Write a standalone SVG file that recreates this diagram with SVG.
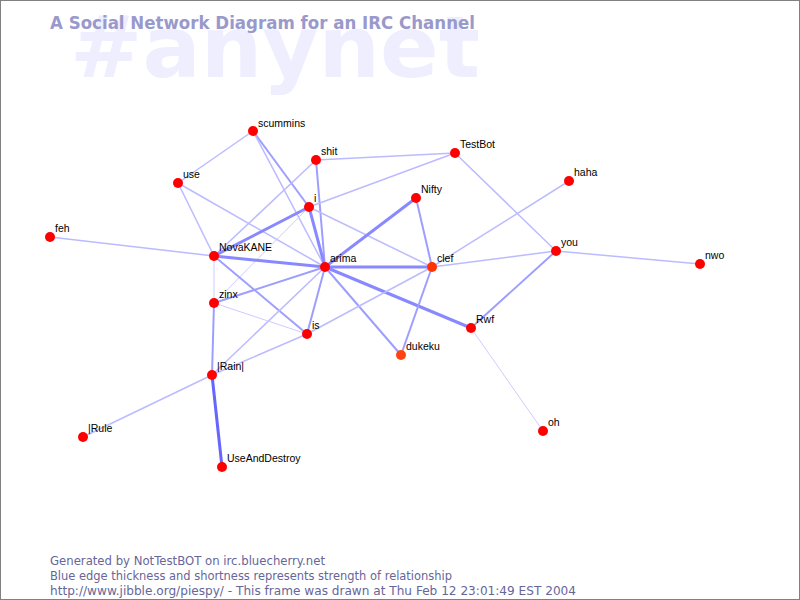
<svg xmlns="http://www.w3.org/2000/svg" width="800" height="600" viewBox="0 0 800 600">
<style>
.bg{fill:#ffffff;stroke:#808080;stroke-width:1}
.wm{font-family:"DejaVu Sans","Liberation Sans",sans-serif;font-weight:bold;font-size:86px;fill:#eeeeff}
.title{font-family:"DejaVu Sans","Liberation Sans",sans-serif;font-weight:bold;font-size:17px;fill:#9999cc}
.foot{font-family:"DejaVu Sans","Liberation Sans",sans-serif;font-size:11.5px;fill:#666699}
.lbl{font-family:"Liberation Sans","DejaVu Sans",sans-serif;font-size:10.5px;fill:#000000}
.n{fill:#ff0000}
.n2{fill:#ff3300}
.n3{fill:#ff4411}
.e1{stroke:#ccccff;stroke-width:1;fill:none}
.e2{stroke:#bbbbff;stroke-width:1.5;fill:none}
.e3{stroke:#9e9eff;stroke-width:2;fill:none}
.e4{stroke:#8888ff;stroke-width:3;fill:none}
.e5{stroke:#6666ff;stroke-width:3;fill:none}
</style>
<rect class="bg" x="0.5" y="0.5" width="799" height="599"/>
<text class="wm" x="70" y="77" textLength="410" lengthAdjust="spacingAndGlyphs">#anynet</text>
<text class="title" x="50" y="29" textLength="425" lengthAdjust="spacingAndGlyphs">A Social Network Diagram for an IRC Channel</text>
<g id="connectors">
<line class="e2" x1="253" y1="131" x2="178" y2="183"/>
<line class="e3" x1="253" y1="131" x2="309" y2="207"/>
<line class="e2" x1="253" y1="131" x2="325" y2="267"/>
<line class="e2" x1="316" y1="160" x2="455" y2="153"/>
<line class="e3" x1="316" y1="160" x2="325" y2="267"/>
<line class="e2" x1="316" y1="160" x2="214" y2="256"/>
<line class="e2" x1="455" y1="153" x2="309" y2="207"/>
<line class="e2" x1="455" y1="153" x2="556" y2="251"/>
<line class="e2" x1="178" y1="183" x2="214" y2="256"/>
<line class="e2" x1="178" y1="183" x2="325" y2="267"/>
<line class="e4" x1="309" y1="207" x2="214" y2="256"/>
<line class="e4" x1="309" y1="207" x2="325" y2="267"/>
<line class="e2" x1="309" y1="207" x2="432" y2="267"/>
<line class="e1" x1="309" y1="207" x2="214" y2="303"/>
<line class="e4" x1="416" y1="198" x2="325" y2="267"/>
<line class="e3" x1="416" y1="198" x2="432" y2="267"/>
<line class="e2" x1="569" y1="181" x2="432" y2="267"/>
<line class="e2" x1="50" y1="237" x2="214" y2="256"/>
<line class="e4" x1="214" y1="256" x2="325" y2="267"/>
<line class="e3" x1="214" y1="256" x2="307" y2="334"/>
<line class="e1" x1="214" y1="256" x2="214" y2="303"/>
<line class="e4" x1="325" y1="267" x2="432" y2="267"/>
<line class="e4" x1="325" y1="267" x2="471" y2="328"/>
<line class="e3" x1="325" y1="267" x2="401" y2="355"/>
<line class="e3" x1="325" y1="267" x2="307" y2="334"/>
<line class="e3" x1="325" y1="267" x2="214" y2="303"/>
<line class="e2" x1="325" y1="267" x2="212" y2="375"/>
<line class="e3" x1="432" y1="267" x2="401" y2="355"/>
<line class="e2" x1="432" y1="267" x2="556" y2="251"/>
<line class="e2" x1="432" y1="267" x2="307" y2="334"/>
<line class="e3" x1="556" y1="251" x2="471" y2="328"/>
<line class="e2" x1="556" y1="251" x2="700" y2="264"/>
<line class="e1" x1="471" y1="328" x2="543" y2="431"/>
<line class="e1" x1="214" y1="303" x2="307" y2="334"/>
<line class="e3" x1="214" y1="303" x2="212" y2="375"/>
<line class="e2" x1="307" y1="334" x2="212" y2="375"/>
<line class="e2" x1="212" y1="375" x2="83" y2="437"/>
<line class="e5" x1="212" y1="375" x2="222" y2="467"/>
</g>
<g id="scummins"><circle class="n" cx="253" cy="131" r="5"/><text class="lbl" x="258" y="127">scummins</text></g>
<g id="shit"><circle class="n" cx="316" cy="160" r="5"/><text class="lbl" x="321" y="155">shit</text></g>
<g id="TestBot"><circle class="n" cx="455" cy="153" r="5"/><text class="lbl" x="460" y="148">TestBot</text></g>
<g id="use"><circle class="n" cx="178" cy="183" r="5"/><text class="lbl" x="183" y="178">use</text></g>
<g id="i"><circle class="n" cx="309" cy="207" r="5"/><text class="lbl" x="314" y="202">i</text></g>
<g id="Nifty"><circle class="n" cx="416" cy="198" r="5"/><text class="lbl" x="421" y="193">Nifty</text></g>
<g id="haha"><circle class="n" cx="569" cy="181" r="5"/><text class="lbl" x="574" y="176">haha</text></g>
<g id="feh"><circle class="n" cx="50" cy="237" r="5"/><text class="lbl" x="55" y="232">feh</text></g>
<g id="NovaKANE"><circle class="n" cx="214" cy="256" r="5"/><text class="lbl" x="219" y="251">NovaKANE</text></g>
<g id="arima"><circle class="n" cx="325" cy="267" r="5"/><text class="lbl" x="330" y="262">arima</text></g>
<g id="clef"><circle class="n2" cx="432" cy="267" r="5"/><text class="lbl" x="437" y="262">clef</text></g>
<g id="you"><circle class="n" cx="556" cy="251" r="5"/><text class="lbl" x="561" y="246">you</text></g>
<g id="nwo"><circle class="n" cx="700" cy="264" r="5"/><text class="lbl" x="705" y="259">nwo</text></g>
<g id="zinx"><circle class="n" cx="214" cy="303" r="5"/><text class="lbl" x="219" y="298">zinx</text></g>
<g id="is"><circle class="n" cx="307" cy="334" r="5"/><text class="lbl" x="312" y="329">is</text></g>
<g id="Rwf"><circle class="n" cx="471" cy="328" r="5"/><text class="lbl" x="476" y="323">Rwf</text></g>
<g id="dukeku"><circle class="n3" cx="401" cy="355" r="5"/><text class="lbl" x="406" y="350">dukeku</text></g>
<g id="Rain"><circle class="n" cx="212" cy="375" r="5"/><text class="lbl" x="217" y="370">|Rain|</text></g>
<g id="Rule"><circle class="n" cx="83" cy="437" r="5"/><text class="lbl" x="88" y="432">|Rule</text></g>
<g id="oh"><circle class="n" cx="543" cy="431" r="5"/><text class="lbl" x="548" y="426">oh</text></g>
<g id="UseAndDestroy"><circle class="n" cx="222" cy="467" r="5"/><text class="lbl" x="227" y="462">UseAndDestroy</text></g>
<text class="foot" x="50" y="565" textLength="275" lengthAdjust="spacingAndGlyphs">Generated by NotTestBOT on irc.bluecherry.net</text>
<text class="foot" x="50" y="580" textLength="402" lengthAdjust="spacingAndGlyphs">Blue edge thickness and shortness represents strength of relationship</text>
<text class="foot" x="50" y="595" textLength="526" lengthAdjust="spacingAndGlyphs">http://www.jibble.org/piespy/ - This frame was drawn at Thu Feb 12 23:01:49 EST 2004</text>
</svg>
